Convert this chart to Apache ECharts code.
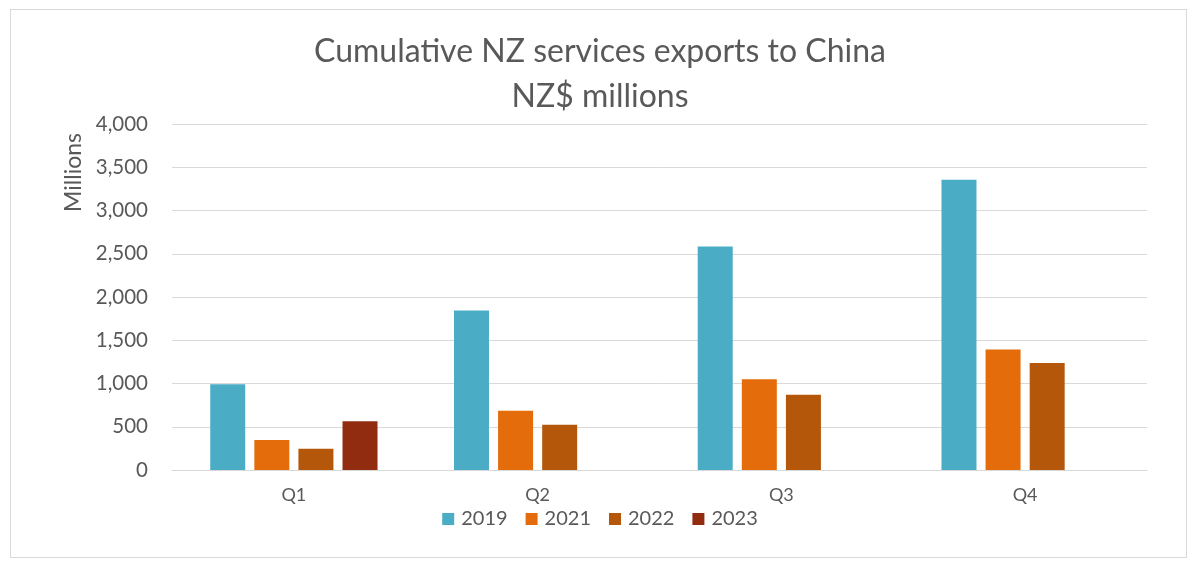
<!DOCTYPE html>
<html>
<head>
<meta charset="utf-8">
<script src="https://cdn.jsdelivr.net/npm/echarts@6/dist/echarts.min.js"></script>
<style>
html,body{margin:0;padding:0;background:#fff;}
#frame{position:absolute;left:10px;top:9px;width:1177px;height:549px;border:1px solid #d9d9d9;box-sizing:border-box;}
#chart{position:absolute;left:0;top:0;width:1200px;height:572px;}
</style>
</head>
<body>
<div id="frame"></div>
<div id="chart"></div>
<script>
const categories = ['Q1', 'Q2', 'Q3', 'Q4'];
const seriesNames = ['2019', '2021', '2022', '2023'];
const values2019 = [990, 1845, 2585, 3355];
const values2021 = [348, 684, 1050, 1392];
const values2022 = [247, 522, 870, 1237];
const values2023 = [565, null, null, null];
const yTicks = [0, 500, 1000, 1500, 2000, 2500, 3000, 3500, 4000];
const colors = ['#4BACC6', '#E46C0A', '#B5570A', '#922C10'];

const font = 'Lato, "Open Sans", sans-serif';
const chart = echarts.init(document.getElementById('chart'));
const dataSets = [values2019, values2021, values2022, values2023];
chart.setOption({
  animation: false,
  textStyle: { fontFamily: font },
  title: {
    text: 'Cumulative NZ services exports to China\nNZ$ millions',
    left: 'center',
    top: 24,
    textStyle: { fontFamily: font, fontSize: 32, fontWeight: 'normal', color: '#595959', lineHeight: 45 }
  },
  graphic: [{
    type: 'text',
    left: 62,
    top: 133,
    rotation: Math.PI / 2,
    style: { text: 'Millions', fontFamily: font, fontSize: 23, fill: '#595959' }
  }],
  legend: {
    data: seriesNames,
    bottom: 38,
    left: 'center',
    itemWidth: 12,
    itemHeight: 12,
    itemGap: 18,
    icon: 'rect',
    textStyle: { fontFamily: font, fontSize: 20, color: '#595959', padding: [0, 0, 0, 2] }
  },
  grid: { left: 172, right: 53, top: 124, bottom: 102 },
  xAxis: {
    type: 'category',
    data: categories,
    axisLine: { lineStyle: { color: '#d9d9d9', width: 1 } },
    axisTick: { show: false },
    axisLabel: { fontFamily: font, fontSize: 18, color: '#595959', margin: 16 }
  },
  yAxis: {
    type: 'value',
    min: yTicks[0],
    max: yTicks[yTicks.length - 1],
    interval: 500,
    axisLine: { show: false },
    axisTick: { show: false },
    splitLine: { lineStyle: { color: '#d9d9d9', width: 1 } },
    axisLabel: {
      fontFamily: font, fontSize: 20.5, color: '#595959', margin: 24,
      formatter: v => v.toString().replace(/\B(?=(\d{3})+(?!\d))/g, ',')
    }
  },
  series: seriesNames.map((n, i) => ({
    name: n,
    type: 'bar',
    data: dataSets[i],
    barWidth: 35,
    barGap: '26%',
    itemStyle: { color: colors[i] }
  }))
});
</script>
</body>
</html>
